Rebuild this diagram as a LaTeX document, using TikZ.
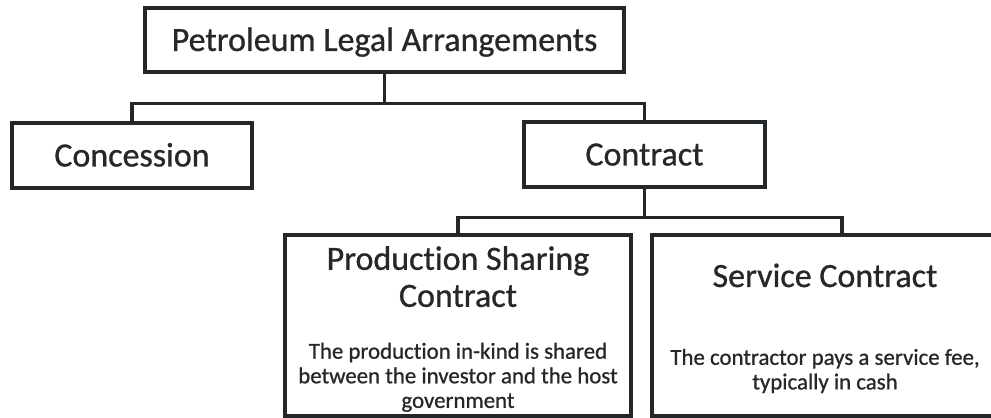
\documentclass[tikz,border=0pt]{standalone}
\usepackage{fontspec}
\setmainfont{Carlito}[Ligatures=NoCommon, FakeBold=0.8]
\usepackage{xcolor}
\usepackage{tikz}
\definecolor{ink}{HTML}{25282B}

\begin{document}
\begin{tikzpicture}[
    box/.style={draw=ink, line width=2.7pt, fill=white, inner sep=0pt},
    head/.style={text=ink, font=\fontsize{29}{31.6}\selectfont, align=center, inner sep=0pt},
    line/.style={text height=18.7pt, text depth=0pt},
    desc/.style={text=ink, font=\fontsize{19.5}{21}\selectfont, align=center, inner sep=0pt},
    link/.style={draw=ink, line width=2.7pt}]
    \useasboundingbox (0,0) rectangle (29.73,12.54);
    % 1. Upper levels
    \node[box, head, line, minimum width=14.37cm, minimum height=1.92cm] (petro) at (11.535,11.34) {Petroleum Legal Arrangements};
    \node[box, head, line, minimum width=7.2cm, minimum height=1.95cm] (conc) at (3.96,7.875) {Concession};
    \node[box, head, line, minimum width=7.23cm, minimum height=1.95cm] (contr) at (19.335,7.905) {Contract};

    % 2. Contract types
    \node[box, minimum width=10.38cm, minimum height=5.43cm] (psc) at (13.74,2.775) {};
    \node[box, minimum width=10.38cm, minimum height=5.43cm] (sc) at (24.75,2.775) {};
    \node[head] (psctitle) at (13.74,4.24) {Production Sharing\\Contract};
    \node[head, anchor=base] (sctitle) at (24.75,3.93) {Service Contract};
    \node[desc] (pscdesc) at (13.74,1.22) {The production in-kind is shared\\between the investor and the host\\government};
    \node[desc] (scdesc) at (24.75,1.41) {The contractor pays a service fee,\\typically in cash};

    % 3. Connectors
    \draw[link] (petro.south) -- ++(0,-0.9) coordinate (bus1);
    \draw[link] (conc.north) |- (bus1) -| (contr.north);
    \coordinate (scin) at ([xshift=0.51cm]sc.north);
    \draw[link] (contr.south) -- ++(0,-0.87) coordinate (bus2);
    \draw[link] (psc.north) |- (bus2) -| (scin);
\end{tikzpicture}
\end{document}
